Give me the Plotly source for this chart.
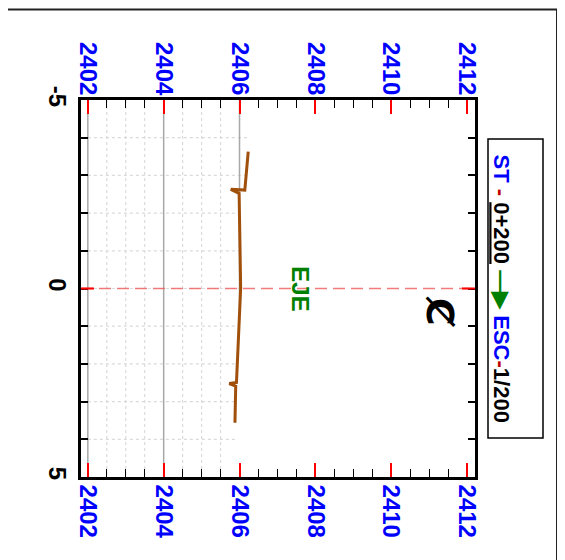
import numpy as np
import plotly.graph_objects as go

# ---- data ----
offset = [-3.63, -2.61, -2.63, -2.52, 0.0, 2.49, 2.52, 2.59, 3.56]
elevation = [2406.23, 2406.14, 2405.77, 2405.99, 2406.03, 2405.92, 2405.73, 2405.90, 2405.88]
elev_ticks = [2402, 2404, 2406, 2408, 2410, 2412]
offset_ticks = [-5, -4, -3, -2, -1, 0, 1, 2, 3, 4, 5]
offset_labels = ["-5", "", "", "", "", "0", "", "", "", "", "5"]
axis_label = "EJE"
cl_symbol = "Ȼ"
title_html = ("<span style='color:#0000ff'>ST</span> <span style='color:#c00000'>-</span> "
              "<u>0+200</u> <span style='color:#008000'>—▶</span> "
              "<span style='color:#0000ff'>ESC</span><span style='color:#c00000'>-</span>1/200")

OFF = 8  # page body margin
W, H = 565, 560
# plot area in screen pixels: x 81..475, y 100..477
SX0, SX1, SY0, SY1 = 81, 475, 100, 477
L, T = SX0 - OFF, SY0 - OFF
R, B = W - (SX1 - OFF), H - (SY1 - OFF)
PW, PH = SX1 - SX0, SY1 - SY0
XR = [2401.82, 2412.21]
YR = [5, -5]

def px(xs):
    return (xs - SX0) / PW

def py(ys):
    return (SY1 - ys) / PH

SANS = "Liberation Sans, Arial, sans-serif"

# ground profile for clipping the grid (monotone subset)
mo, me = [], []
for o, e in zip(offset, elevation):
    if not mo or o > mo[-1]:
        mo.append(o)
        me.append(e)
samp = np.linspace(-5, 5, 2001)
ground = np.interp(samp, mo, me)

fig = go.Figure()

# vertical grid lines (below ground)
minor_x, minor_y, major_x, major_y = [], [], [], []
for e in np.arange(elev_ticks[0], 2406.51, 0.5):
    mask = ground >= e
    runs = []
    start = None
    for i, m in enumerate(mask):
        if m and start is None:
            start = i
        if (not m or i == len(mask) - 1) and start is not None:
            end = i if m else i - 1
            runs.append((samp[start], samp[end]))
            start = None
    is_major = abs(e - round(e)) < 1e-9 and int(round(e)) % 2 == 0
    for a, b in runs:
        if is_major:
            major_x += [e, e, None]
            major_y += [a, b, None]
        else:
            minor_x += [e, e, None]
            minor_y += [a, b, None]

# horizontal grid lines
hx, hy = [], []
for o in offset_ticks[1:-1]:
    g = float(np.interp(o, mo, me))
    hx += [elev_ticks[0], g, None]
    hy += [o, o, None]

fig.add_trace(go.Scatter(x=hx, y=hy, mode="lines", line=dict(color="#dadada", width=1.2, dash="dot"),
                         hoverinfo="skip", showlegend=False))
fig.add_trace(go.Scatter(x=minor_x, y=minor_y, mode="lines", line=dict(color="#dadada", width=1.2, dash="dot"),
                         hoverinfo="skip", showlegend=False))
fig.add_trace(go.Scatter(x=major_x, y=major_y, mode="lines", line=dict(color="#a8a8a8", width=1.5),
                         hoverinfo="skip", showlegend=False))

# centre line
fig.add_shape(type="line", xref="x domain", yref="y", x0=0, x1=1, y0=0, y1=0,
              line=dict(color="rgba(240,90,90,0.8)", width=1.6, dash="12px,6px"))
fig.add_shape(type="line", xref="x domain", yref="y", x0=0, x1=13 / PW, y0=0, y1=0,
              line=dict(color="#ff0000", width=2))
fig.add_shape(type="line", xref="x domain", yref="y", x0=1 - 13 / PW, x1=1, y0=0, y1=0,
              line=dict(color="#ff0000", width=2))

# terrain
fig.add_trace(go.Scatter(x=elevation, y=offset, mode="lines", line=dict(color="#A0500A", width=3),
                         hoverinfo="skip", showlegend=False))

# dummy for top axis
fig.add_trace(go.Scatter(x=[XR[0]], y=[0], xaxis="x2", yaxis="y", mode="markers",
                         marker=dict(opacity=0), hoverinfo="skip", showlegend=False))

xcommon = dict(range=XR, tickmode="array", tickvals=elev_ticks, ticks="inside", ticklen=14,
               tickwidth=2, tickcolor="#ff0000", tickangle=90, automargin=False,
               tickfont=dict(family=SANS, size=24, color="#0000ff", weight="bold"),
               minor=dict(dtick=0.5, tick0=2402, ticks="inside", ticklen=8, tickwidth=1, tickcolor="#000000"),
               showgrid=False, zeroline=False)

fig.update_layout(
    width=W, height=H,
    margin=dict(l=L, r=R, t=T, b=B, pad=0, autoexpand=False),
    paper_bgcolor="white", plot_bgcolor="white",
    xaxis=dict(**xcommon, side="bottom", showline=True, linecolor="black", linewidth=2.5, mirror=True),
    xaxis2=dict(**xcommon, side="top", overlaying="x", matches="x", showline=False),
    yaxis=dict(range=YR, tickmode="array", tickvals=offset_ticks, ticktext=offset_labels,
               ticks="inside", ticklen=7, tickwidth=1.5, tickcolor="black", tickangle=90, automargin=False,
               tickfont=dict(family=SANS, size=24, color="black", weight="bold"),
               showline=True, linecolor="black", linewidth=2.5, mirror="ticks",
               showgrid=False, zeroline=False),
    showlegend=False,
)

# EJE label
fig.add_annotation(x=2407.6, y=0, xref="x", yref="y", text=f"<b>{axis_label}</b>", showarrow=False,
                   textangle=90, font=dict(family=SANS, size=24, color="#008000"))
# centreline symbol
fig.add_annotation(x=2411.31, y=0.61, xref="x", yref="y", text=f"<b>{cl_symbol}</b>", showarrow=False,
                   textangle=90, font=dict(family="DejaVu Sans", size=38, color="black"))

# title box
fig.add_shape(type="rect", xref="paper", yref="paper", x0=px(488), x1=px(543), y0=py(438), y1=py(139),
              line=dict(color="black", width=1.5))
fig.add_annotation(x=px(516), y=py(289), xref="paper", yref="paper", text=f"<b>{title_html}</b>",
                   showarrow=False, textangle=90, font=dict(family=SANS, size=22, color="black"))

# outer frame (top and right edges)
fig.add_shape(type="line", xref="paper", yref="paper", x0=px(0), x1=px(557), y0=py(9.5), y1=py(9.5),
              line=dict(color="#222", width=2))
fig.add_shape(type="line", xref="paper", yref="paper", x0=px(557), x1=px(557), y0=py(9.5), y1=py(565),
              line=dict(color="#222", width=2))

fig.write_html("out.html")
